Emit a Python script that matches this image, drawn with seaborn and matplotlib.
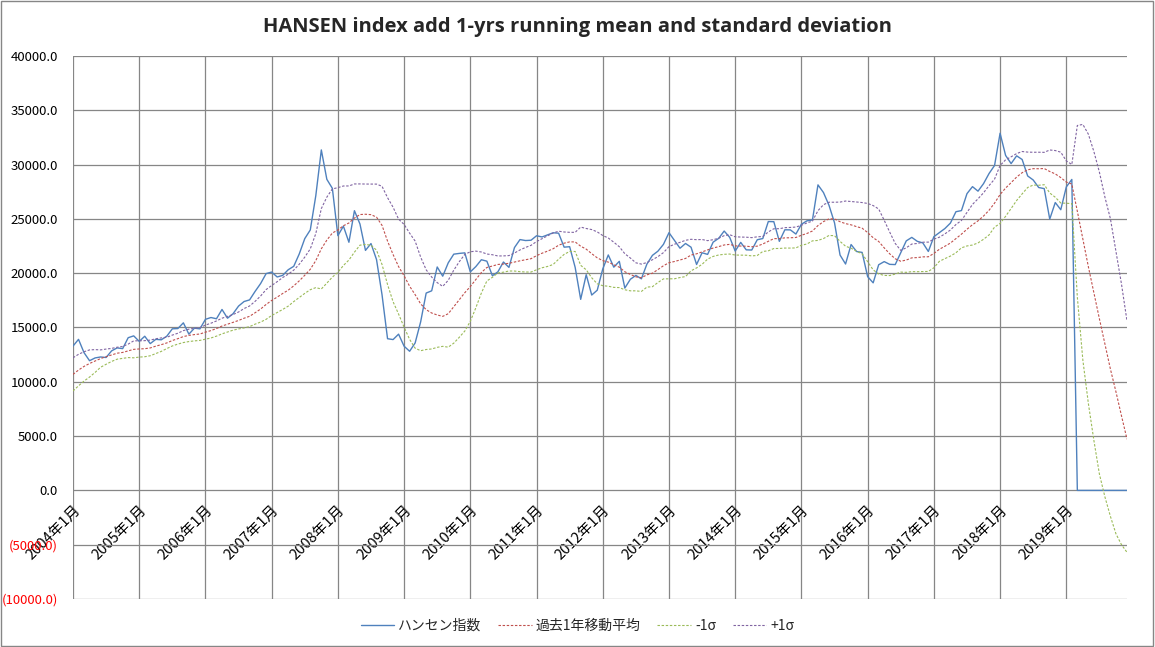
import numpy as np
import matplotlib
matplotlib.use("Agg")
import matplotlib.pyplot as plt
from matplotlib.patches import Rectangle
import seaborn as sns

# Monthly closes of the Hang Seng index, 2004-01 .. 2019-12 (0 after 2019-02, as in the sheet)
hansen = [
    13289, 13908, 12682, 11942, 12198, 12286, 12239, 12850, 13121, 13055, 14060, 14230,
    13721, 14195, 13517, 13908, 13868, 14201, 14880, 14903, 15429, 14386, 14937, 14876,
    15753, 15918, 15805, 16661, 15857, 16267, 16971, 17392, 17543, 18324, 19049, 19965,
    20106, 19651, 19801, 20319, 20634, 21773, 23185, 23984, 27142, 31352, 28643, 27813,
    23456, 24332, 22849, 25755, 24533, 22102, 22731, 21262, 18016, 13969, 13888, 14387,
    13278, 12812, 13576, 15521, 18171, 18379, 20573, 19724, 20955, 21753, 21822, 21873,
    20122, 20609, 21239, 21108, 19765, 20129, 21030, 20537, 22359, 23096, 23008, 23035,
    23447, 23338, 23528, 23721, 23684, 22398, 22440, 20535, 17592, 19864, 17989, 18434,
    20390, 21680, 20556, 21094, 18630, 19441, 19796, 19483, 20840, 21642, 22030, 22657,
    23730, 23020, 22300, 22737, 22392, 20803, 21883, 21731, 22860, 23206, 23881, 23306,
    22035, 22837, 22151, 22134, 23082, 23191, 24757, 24742, 22933, 23998, 23987, 23605,
    24507, 24823, 24901, 28133, 27424, 26250, 24636, 21671, 20846, 22640, 21996, 21914,
    19683, 19112, 20777, 21067, 20815, 20794, 21891, 22977, 23297, 22935, 22790, 22001,
    23361, 23741, 24112, 24615, 25661, 25765, 27324, 27970, 27554, 28246, 29177, 29919,
    32887, 30845, 30093, 30808, 30469, 28955, 28583, 27889, 27789, 24980, 26507, 25846,
    27942, 28633, 0, 0, 0, 0, 0, 0, 0, 0, 0, 0,
]

# Past 1 year running mean
mean1y = [
    10682, 11081, 11418, 11687, 11913, 12139, 12314, 12476, 12633, 12705, 12851, 12988,
    13024, 13048, 13118, 13282, 13421, 13580, 13801, 13972, 14164, 14275, 14348, 14402,
    14571, 14715, 14905, 15135, 15301, 15473, 15647, 15854, 16031, 16359, 16701, 17125,
    17488, 17799, 18132, 18437, 18835, 19294, 19812, 20361, 21161, 22247, 23046, 23700,
    23979, 24370, 24624, 25077, 25401, 25429, 25391, 25164, 24404, 22955, 21726, 20607,
    19759, 18799, 18026, 17173, 16643, 16333, 16153, 16025, 16269, 16918, 17579, 18203,
    18773, 19423, 20062, 20527, 20660, 20806, 20844, 20912, 21029, 21141, 21240, 21336,
    21614, 21841, 22032, 22249, 22576, 22765, 22883, 22882, 22485, 22216, 21798, 21414,
    21159, 21021, 20774, 20555, 20134, 19887, 19667, 19579, 19850, 19998, 20335, 20687,
    20965, 21077, 21222, 21359, 21672, 21786, 21960, 22147, 22315, 22446, 22600, 22654,
    22513, 22498, 22485, 22435, 22492, 22691, 22931, 23182, 23188, 23254, 23263, 23288,
    23494, 23659, 23888, 24388, 24750, 25005, 24995, 24739, 24565, 24452, 24286, 24145,
    23743, 23267, 22924, 22335, 21784, 21329, 21101, 21209, 21414, 21438, 21504, 21512,
    21818, 22204, 22482, 22777, 23181, 23596, 24048, 24464, 24819, 25262, 25794, 26454,
    27248, 27840, 28338, 28854, 29255, 29521, 29626, 29619, 29638, 29366, 29144, 28804,
    28392, 28208, 25700, 23133, 20594, 18181, 15799, 13475, 11159, 9077, 6868, 4715,
]

# mean - 1 sigma
minusSigma = [
    9152, 9631, 10068, 10437, 10863, 11339, 11614, 11876, 12083, 12155, 12231, 12208,
    12274, 12308, 12398, 12602, 12801, 13060, 13301, 13472, 13614, 13705, 13768, 13812,
    13921, 14035, 14205, 14415, 14581, 14753, 14867, 14964, 15081, 15309, 15501, 15755,
    16108, 16379, 16662, 16967, 17385, 17764, 18142, 18481, 18671, 18547, 19086, 19640,
    20079, 20710, 21214, 21937, 22581, 22649, 22571, 22124, 20804, 18955, 17376, 16237,
    15029, 13909, 13096, 12863, 12973, 13023, 13173, 13265, 13189, 13558, 14099, 14673,
    15573, 16813, 18172, 19287, 19620, 20026, 20094, 20202, 20199, 20141, 20110, 20106,
    20314, 20501, 20622, 20799, 21286, 21735, 22003, 22002, 20725, 20316, 19578, 19024,
    18849, 18801, 18694, 18675, 18474, 18377, 18377, 18319, 18720, 18758, 19145, 19477,
    19485, 19487, 19602, 19689, 20222, 20486, 20820, 21297, 21545, 21676, 21740, 21764,
    21673, 21668, 21655, 21595, 21632, 22001, 22061, 22272, 22278, 22314, 22313, 22328,
    22574, 22689, 22978, 23018, 23190, 23475, 23455, 22929, 22485, 22302, 22016, 21785,
    21063, 20307, 19934, 19795, 19784, 19919, 20101, 20079, 20144, 20138, 20154, 20162,
    20498, 21094, 21342, 21577, 21881, 22336, 22508, 22594, 22789, 23122, 23524, 24244,
    24578, 25240, 25958, 26694, 27305, 27891, 28116, 28099, 28148, 27386, 26994, 26464,
    26442, 26408, 17800, 12000, 8000, 4600, 1500, -600, -2400, -4000, -5000, -5700,
]

# mean + 1 sigma
plusSigma = [
    12212, 12531, 12768, 12937, 12963, 12939, 13014, 13076, 13183, 13255, 13471, 13768,
    13774, 13788, 13838, 13962, 14041, 14100, 14301, 14472, 14714, 14845, 14928, 14992,
    15221, 15395, 15605, 15855, 16021, 16193, 16427, 16744, 16981, 17409, 17901, 18495,
    18868, 19219, 19602, 19907, 20285, 20824, 21482, 22241, 23651, 25947, 27006, 27760,
    27879, 28030, 28034, 28217, 28221, 28209, 28211, 28204, 28004, 26955, 26076, 24977,
    24489, 23689, 22956, 21483, 20313, 19643, 19133, 18785, 19349, 20278, 21059, 21733,
    21973, 22033, 21952, 21767, 21700, 21586, 21594, 21622, 21859, 22141, 22370, 22566,
    22914, 23181, 23442, 23699, 23866, 23795, 23763, 23762, 24245, 24116, 24018, 23804,
    23469, 23241, 22854, 22435, 21794, 21397, 20957, 20839, 20980, 21238, 21525, 21897,
    22445, 22667, 22842, 23029, 23122, 23086, 23100, 22997, 23085, 23216, 23460, 23544,
    23353, 23328, 23315, 23275, 23352, 23381, 23801, 24092, 24098, 24194, 24213, 24248,
    24414, 24629, 24798, 25758, 26310, 26535, 26535, 26549, 26645, 26602, 26556, 26505,
    26423, 26227, 25914, 24875, 23784, 22739, 22101, 22339, 22684, 22738, 22854, 22862,
    23138, 23314, 23622, 23977, 24481, 24856, 25588, 26334, 26849, 27402, 28064, 28664,
    29918, 30440, 30718, 31014, 31205, 31151, 31136, 31139, 31128, 31346, 31294, 31144,
    30342, 30008, 33600, 33700, 32800, 31200, 29300, 27000, 25000, 22000, 19000, 15600,
]

years = list(range(2004, 2020))
tickLabels = [f"{y}年1月" for y in years]

titleText = "HANSEN index add 1-yrs running mean and standard deviation"
seriesNames = ["ハンセン指数", "過去1年移動平均", "-1σ", "+1σ"]

sns.set_theme(style="white")
plt.rcParams['font.family'] = ['Noto Sans CJK JP', 'DejaVu Sans']

fig = plt.figure(figsize=(11.55, 6.47), dpi=100)
ax = fig.add_axes([73 / 1155, 1 - 599 / 647, (1127 - 73) / 1155, (599 - 56) / 647])

x = np.arange(len(hansen))
gridColor = "#868686"

# Series, drawn in the sheet's order
sns.lineplot(x=x, y=hansen, ax=ax, color="#4F81BD", linewidth=1.0, label=seriesNames[0])
sns.lineplot(x=x, y=mean1y, ax=ax, color="#C0504D", linewidth=0.8,
             linestyle=(0, (2.2, 1.5)), label=seriesNames[1])
sns.lineplot(x=x, y=minusSigma, ax=ax, color="#9BBB59", linewidth=0.8,
             linestyle=(0, (2.2, 1.5)), label=seriesNames[2])
sns.lineplot(x=x, y=plusSigma, ax=ax, color="#8064A2", linewidth=0.8,
             linestyle=(0, (2.2, 1.5)), label=seriesNames[3])

ax.set_xlim(0, len(hansen) - 1)
ax.set_ylim(-10000, 40000)
ax.set_yticks(np.arange(-10000, 40001, 5000))
ax.set_xticks(np.arange(0, len(hansen), 12))
ax.set_xticklabels(tickLabels)

def yFormat(v, pos=None):
    if v < 0:
        return f"({-v:.1f})"
    return f"{v:.1f}"

ax.yaxis.set_major_formatter(matplotlib.ticker.FuncFormatter(yFormat))

ax.grid(True, color=gridColor, linewidth=0.9)
ax.set_axisbelow(True)
for side in ["left", "right", "top", "bottom"]:
    ax.spines[side].set_visible(False)
# category labels sit on the 0 line, like the Excel axis
ax.spines["bottom"].set_position(("data", 0))

ax.tick_params(axis="x", length=0, pad=9, labelsize=10.5, colors="black")
ax.tick_params(axis="y", length=0, pad=11, labelsize=9.5, colors="black")
plt.setp(ax.get_xticklabels(), rotation=45, ha="right", va="top", rotation_mode="anchor")
for lab, val in zip(ax.get_yticklabels(), ax.get_yticks()):
    if val < 0:
        lab.set_color("red")

ax.set_xlabel("")
ax.set_ylabel("")

# Legend at the bottom
handles, labels = ax.get_legend_handles_labels()
ax.get_legend().remove()
fig.legend(handles, labels, loc="center", bbox_to_anchor=(0.5, 1 - 626 / 647), ncol=4,
           frameon=False, fontsize=10, handlelength=2.4, handletextpad=0.3, columnspacing=1.2)

fig.text(0.5, 1 - 27 / 647, titleText, ha="center", va="center", fontsize=14.5,
         fontweight="bold", family=["Open Sans", "DejaVu Sans"])

# chart area border
fig.patches.append(Rectangle((0.0005, 0.001), 0.998, 0.997, transform=fig.transFigure,
                             fill=False, edgecolor=gridColor, linewidth=1.0))

fig.savefig("out.png", dpi=100)
